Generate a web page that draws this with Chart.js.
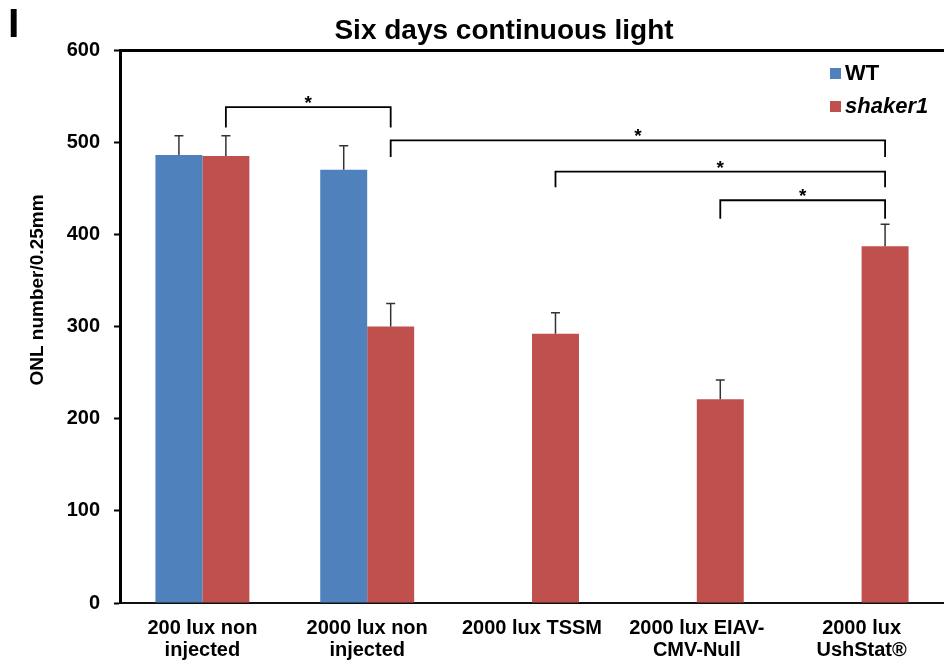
<!DOCTYPE html>
<html lang="en">
<head>
  <meta charset="UTF-8" />
  <title>Six days continuous light</title>
  <script src="https://cdn.jsdelivr.net/npm/chart.js"></script>
  <style>
    body { margin: 0; background: #fff; }
    .wrap { width: 944px; height: 664px; position: relative; }
  </style>
</head>
<body>
  <div class="wrap">
    <canvas id="onlChart"></canvas>
  </div>

  <script>
    // categories and values
    const categorias = [
      ['200 lux non', 'injected'],
      ['2000 lux non', 'injected'],
      '2000 lux TSSM',
      ['2000 lux EIAV-', 'CMV-Null'],
      ['2000 lux', 'UshStat®']
    ];
    const valoresWT = [486, 470, null, null, null];
    const valoresShaker = [485, 300, 292, 221, 387];
    const erroWT = [21, 26, null, null, null];
    const erroShaker = [22, 25, 23, 21, 24];
    const ticksY = [0, 100, 200, 300, 400, 500, 600];

    // significance brackets: [categoria inicial, categoria final, topo, pe das pernas]
    const colchetes = [
      [0, 1, 538, 516],
      [1, 4, 502, 484],
      [2, 4, 468, 451],
      [3, 4, 437, 417]
    ];

    const FONTE = '"Liberation Sans", Arial, sans-serif';

    const extras = {
      id: 'extras',
      afterDatasetsDraw(chart) {
        const ctx = chart.ctx;
        const y = chart.scales.y;

        // error bars
        const erros = [erroWT, erroShaker];
        ctx.save();
        ctx.strokeStyle = '#333';
        ctx.lineWidth = 1.5;
        for (let d = 0; d < 2; d++) {
          const meta = chart.getDatasetMeta(d);
          const vals = chart.data.datasets[d].data;
          for (let i = 0; i < vals.length; i++) {
            if (vals[i] === null || erros[d][i] === null) continue;
            const bx = meta.data[i].x;
            const y0 = y.getPixelForValue(vals[i]);
            const y1 = y.getPixelForValue(vals[i] + erros[d][i]);
            ctx.beginPath();
            ctx.moveTo(bx, y0);
            ctx.lineTo(bx, y1);
            ctx.moveTo(bx - 4.5, y1);
            ctx.lineTo(bx + 4.5, y1);
            ctx.stroke();
          }
        }
        ctx.restore();

        // brackets with stars
        const metaS = chart.getDatasetMeta(1);
        ctx.save();
        ctx.strokeStyle = '#000';
        ctx.lineWidth = 1.8;
        ctx.fillStyle = '#000';
        ctx.font = 'bold 19px ' + FONTE;
        ctx.textAlign = 'center';
        ctx.textBaseline = 'alphabetic';
        for (let i = 0; i < colchetes.length; i++) {
          const c = colchetes[i];
          const x1 = metaS.data[c[0]].x;
          const x2 = metaS.data[c[1]].x;
          const yt = y.getPixelForValue(c[2]);
          const yb = y.getPixelForValue(c[3]);
          ctx.beginPath();
          ctx.moveTo(x1, yb);
          ctx.lineTo(x1, yt);
          ctx.lineTo(x2, yt);
          ctx.lineTo(x2, yb);
          ctx.stroke();
          ctx.fillText('*', (x1 + x2) / 2, yt + 2);
        }
        ctx.restore();
      },
      afterDraw(chart) {
        const ctx = chart.ctx;
        ctx.save();
        ctx.fillStyle = '#000';

        // panel letter
        ctx.font = 'bold 41px ' + FONTE;
        ctx.textAlign = 'left';
        ctx.textBaseline = 'alphabetic';
        ctx.fillText('I', 8, 37);

        // title
        ctx.font = 'bold 28px ' + FONTE;
        ctx.textAlign = 'center';
        ctx.fillText('Six days continuous light', 504, 39);

        // y axis title
        ctx.save();
        ctx.translate(43, 290);
        ctx.rotate(-Math.PI / 2);
        ctx.font = 'bold 19px ' + FONTE;
        ctx.textAlign = 'center';
        ctx.textBaseline = 'alphabetic';
        ctx.fillText('ONL number/0.25mm', 0, 0);
        ctx.restore();

        // legend
        const itens = [
          { texto: 'WT', cor: '#4F81BD', estilo: 'bold', y: 74 },
          { texto: 'shaker1', cor: '#C0504D', estilo: 'italic bold', y: 107 }
        ];
        ctx.textAlign = 'left';
        ctx.textBaseline = 'middle';
        for (let i = 0; i < itens.length; i++) {
          const it = itens[i];
          ctx.fillStyle = it.cor;
          ctx.fillRect(830, it.y - 6, 11, 11);
          ctx.fillStyle = '#000';
          ctx.font = it.estilo + ' 22px ' + FONTE;
          ctx.fillText(it.texto, 845, it.y);
        }
        ctx.restore();
      }
    };

    new Chart(document.getElementById('onlChart'), {
      type: 'bar',
      data: {
        labels: categorias,
        datasets: [
          {
            label: 'WT',
            data: valoresWT,
            backgroundColor: '#4F81BD',
            categoryPercentage: 0.57,
            barPercentage: 1
          },
          {
            label: 'shaker1',
            data: valoresShaker,
            backgroundColor: '#C0504D',
            categoryPercentage: 0.57,
            barPercentage: 1
          }
        ]
      },
      options: {
        responsive: true,
        maintainAspectRatio: false,
        animation: false,
        layout: { padding: { top: 50, left: 0, right: 0, bottom: 0 } },
        plugins: {
          legend: { display: false },
          tooltip: { enabled: false }
        },
        scales: {
          x: {
            grid: { display: false, drawTicks: false },
            border: { display: true, color: '#111', width: 2 },
            ticks: {
              color: '#000',
              padding: 14,
              maxRotation: 0,
              autoSkip: false,
              font: { family: FONTE, size: 20, weight: 'bold', lineHeight: '22px' }
            },
            afterFit(scale) { scale.height = 61; }
          },
          y: {
            min: 0,
            max: 600,
            afterBuildTicks(scale) {
              scale.ticks = ticksY.map(v => ({ value: v }));
            },
            grid: {
              drawTicks: true,
              tickLength: 6,
              tickColor: '#000',
              tickWidth: 2,
              color: c => (c.tick && c.tick.value === 600 ? '#000' : 'rgba(0,0,0,0)'),
              lineWidth: c => (c.tick && c.tick.value === 600 ? 3 : 1)
            },
            border: { display: true, color: '#000', width: 3 },
            ticks: {
              color: '#000',
              padding: 14,
              font: { family: FONTE, size: 20, weight: 'bold' }
            },
            afterFit(scale) { scale.width = 120; }
          }
        }
      },
      plugins: [extras]
    });
  </script>
</body>
</html>
